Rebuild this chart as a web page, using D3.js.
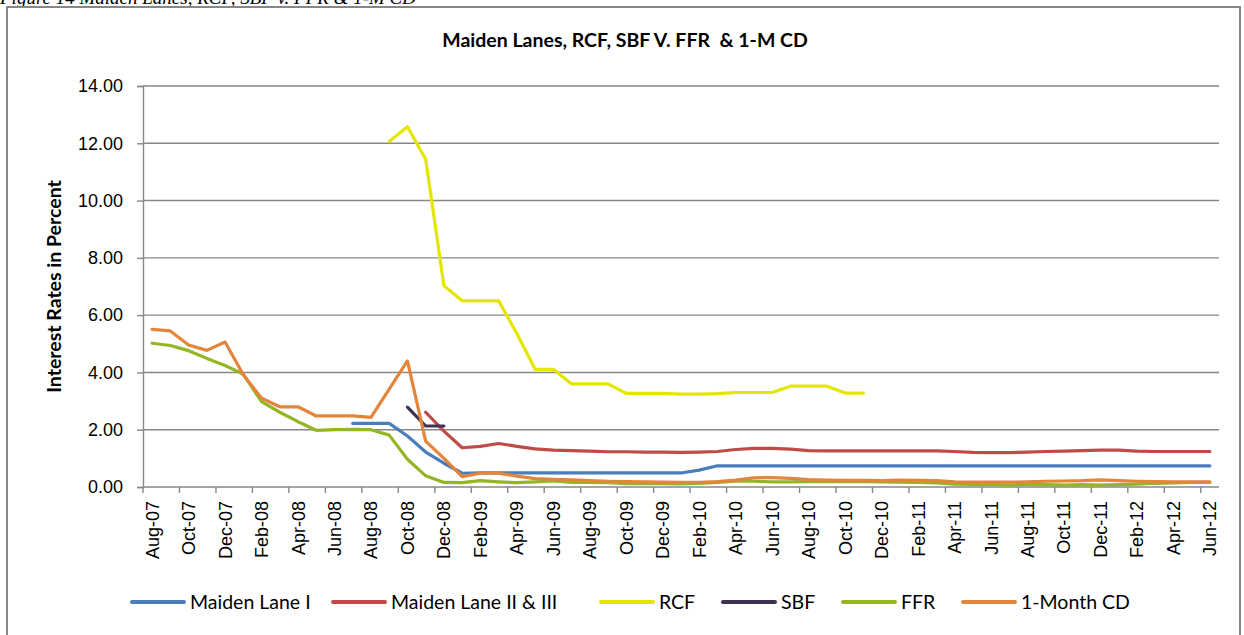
<!DOCTYPE html>
<html>
<head>
<meta charset="utf-8">
<script src="https://cdn.jsdelivr.net/npm/d3@7"></script>
<style>
  body { margin: 0; background: #fff; }
  svg { display: block; font-family: Lato, "Open Sans", sans-serif; }
</style>
</head>
<body>
<svg id="chart"></svg>
<script>
// months on the category axis, Aug-07 .. Jun-12
const months = [
  "Aug-07","Sep-07","Oct-07","Nov-07","Dec-07","Jan-08","Feb-08","Mar-08","Apr-08","May-08","Jun-08","Jul-08",
  "Aug-08","Sep-08","Oct-08","Nov-08","Dec-08","Jan-09","Feb-09","Mar-09","Apr-09","May-09","Jun-09","Jul-09",
  "Aug-09","Sep-09","Oct-09","Nov-09","Dec-09","Jan-10","Feb-10","Mar-10","Apr-10","May-10","Jun-10","Jul-10",
  "Aug-10","Sep-10","Oct-10","Nov-10","Dec-10","Jan-11","Feb-11","Mar-11","Apr-11","May-11","Jun-11","Jul-11",
  "Aug-11","Sep-11","Oct-11","Nov-11","Dec-11","Jan-12","Feb-12","Mar-12","Apr-12","May-12","Jun-12"
];
const yTicks = [0, 2, 4, 6, 8, 10, 12, 14];

const seriesNames = ["Maiden Lane I", "Maiden Lane II & III", "RCF", "SBF", "FFR", "1-Month CD"];

const maidenLaneI = [
  null,null,null,null,null,null,null,null,null,null,null,2.22,
  2.22,2.22,1.78,1.22,0.83,0.48,0.49,0.49,0.49,0.49,0.49,0.49,
  0.49,0.49,0.49,0.49,0.49,0.49,0.59,0.74,0.74,0.74,0.74,0.74,
  0.74,0.74,0.74,0.74,0.74,0.74,0.74,0.74,0.74,0.74,0.74,0.74,
  0.74,0.74,0.74,0.74,0.74,0.74,0.74,0.74,0.74,0.74,0.74
];
const maidenLaneII = [
  null,null,null,null,null,null,null,null,null,null,null,null,
  null,null,null,2.61,1.95,1.37,1.42,1.52,1.42,1.33,1.29,1.27,
  1.25,1.23,1.23,1.22,1.22,1.21,1.22,1.24,1.31,1.35,1.35,1.32,
  1.27,1.26,1.26,1.26,1.26,1.26,1.26,1.26,1.24,1.21,1.20,1.20,
  1.22,1.24,1.25,1.27,1.29,1.29,1.25,1.24,1.24,1.24,1.24
];
const rcf = [
  null,null,null,null,null,null,null,null,null,null,null,null,
  null,12.06,12.58,11.44,7.03,6.50,6.50,6.50,5.36,4.11,4.11,3.60,
  3.60,3.60,3.27,3.27,3.27,3.24,3.24,3.26,3.30,3.30,3.30,3.52,
  3.52,3.52,3.28,3.28,null,null,null,null,null,null,null,null,
  null,null,null,null,null,null,null,null,null,null,null
];
const sbf = [
  null,null,null,null,null,null,null,null,null,null,null,null,
  null,null,2.79,2.13,2.13,null,null,null,null,null,null,null,
  null,null,null,null,null,null,null,null,null,null,null,null,
  null,null,null,null,null,null,null,null,null,null,null,null,
  null,null,null,null,null,null,null,null,null,null,null
];
const ffr = [
  5.02,4.94,4.76,4.49,4.24,3.94,2.98,2.61,2.28,1.98,2.00,2.01,
  2.00,1.81,0.97,0.39,0.16,0.15,0.22,0.18,0.15,0.18,0.21,0.16,
  0.16,0.15,0.12,0.12,0.12,0.11,0.13,0.16,0.20,0.20,0.18,0.18,
  0.19,0.19,0.19,0.19,0.18,0.17,0.16,0.14,0.10,0.09,0.09,0.07,
  0.10,0.08,0.07,0.08,0.07,0.08,0.10,0.13,0.14,0.16,0.16
];
const cd1m = [
  5.50,5.45,4.96,4.77,5.06,3.92,3.10,2.80,2.80,2.48,2.48,2.48,
  2.43,3.42,4.40,1.60,1.00,0.36,0.48,0.48,0.38,0.29,0.27,0.25,
  0.22,0.20,0.19,0.18,0.17,0.16,0.16,0.19,0.24,0.32,0.33,0.30,
  0.26,0.24,0.23,0.23,0.22,0.24,0.23,0.22,0.18,0.17,0.17,0.17,
  0.18,0.20,0.21,0.22,0.25,0.22,0.20,0.19,0.18,0.18,0.18
];

const seriesValues = [maidenLaneI, maidenLaneII, rcf, sbf, ffr, cd1m];
const colors = ["#4a7ebb", "#be4b48", "#e4e600", "#403152", "#94b524", "#e3853a"];

const width = 1244, height = 635;
const svg = d3.select("#chart").attr("width", width).attr("height", height);

const plotLeft = 143, plotRight = 1219, plotTop = 86, plotBottom = 487;
const gridColor = "#878787";

// caption above the chart frame (cut off at the top, as on the page)
svg.append("text")
  .attr("x", 0).attr("y", 4)
  .style("font-family", "'Liberation Serif', serif")
  .style("font-style", "italic")
  .style("font-size", "19px")
  .text("Figure 14 Maiden Lanes, RCF, SBF v. FFR & 1-M CD");

// chart frame
svg.append("rect")
  .attr("x", 7).attr("y", 7)
  .attr("width", 1233).attr("height", 700)
  .attr("fill", "none")
  .attr("stroke", gridColor)
  .attr("stroke-width", 2);

const x = d3.scaleBand().domain(months).range([plotLeft, plotRight]).padding(0);
const y = d3.scaleLinear().domain([0, 14]).range([plotBottom, plotTop]);
const cx = d => x(d) + x.bandwidth() / 2;

// title
svg.append("text")
  .attr("x", 625).attr("y", 47)
  .attr("text-anchor", "middle")
  .style("font-weight", "bold")
  .style("font-size", "19.5px")
  .style("white-space", "pre")
  .text("Maiden Lanes, RCF, SBF V. FFR  & 1-M CD");

// gridlines
svg.append("g").selectAll("line").data(yTicks.slice(1)).enter().append("line")
  .attr("x1", plotLeft).attr("x2", plotRight)
  .attr("y1", d => y(d)).attr("y2", d => y(d))
  .attr("stroke", gridColor).attr("stroke-width", 1.4);

// y axis
const yAxis = svg.append("g")
  .attr("transform", `translate(${plotLeft},0)`)
  .call(d3.axisLeft(y).tickValues(yTicks).tickFormat(d3.format(".2f")).tickSize(6).tickPadding(14));
yAxis.select(".domain").attr("stroke", gridColor).attr("stroke-width", 1.4);
yAxis.selectAll(".tick line").attr("stroke", gridColor).attr("stroke-width", 1.4);
yAxis.selectAll("text").style("font-size", "18px").attr("fill", "#000");

svg.append("text")
  .attr("transform", `translate(61,${(plotTop + plotBottom) / 2}) rotate(-90)`)
  .attr("text-anchor", "middle")
  .style("font-weight", "bold")
  .style("font-size", "19.5px")
  .text("Interest Rates in Percent");

// x axis: baseline, tick marks every second month boundary, rotated labels
svg.append("line")
  .attr("x1", plotLeft).attr("x2", plotRight)
  .attr("y1", plotBottom).attr("y2", plotBottom)
  .attr("stroke", gridColor).attr("stroke-width", 1.4);

const everyOther = months.filter((d, i) => i % 2 === 0);
svg.append("g").selectAll("line").data(everyOther).enter().append("line")
  .attr("x1", d => x(d)).attr("x2", d => x(d))
  .attr("y1", plotBottom).attr("y2", plotBottom + 6)
  .attr("stroke", gridColor).attr("stroke-width", 1.4);

const xAxis = svg.append("g")
  .attr("transform", `translate(0,${plotBottom})`)
  .call(d3.axisBottom(x).tickValues(everyOther).tickSize(0));
xAxis.select(".domain").remove();
xAxis.selectAll("text")
  .attr("transform", "rotate(-90)")
  .attr("text-anchor", "end")
  .attr("x", -14).attr("y", 0).attr("dy", "0.36em")
  .attr("fill", "#000")
  .style("font-size", "18px");

// series lines
const line = d3.line()
  .defined(d => d.v != null)
  .x(d => cx(d.m))
  .y(d => y(d.v));

seriesValues.forEach((vals, k) => {
  svg.append("path")
    .datum(vals.map((v, i) => ({ m: months[i], v: v })))
    .attr("fill", "none")
    .attr("stroke", colors[k])
    .attr("stroke-width", 3.2)
    .attr("stroke-linejoin", "round")
    .attr("stroke-linecap", "round")
    .attr("d", line);
});

// legend
const legendX = [132, 333, 601, 723, 843, 963];
const legendY = 602;
const lg = svg.append("g").selectAll("g").data(seriesNames).enter().append("g")
  .attr("transform", (d, i) => `translate(${legendX[i]},${legendY})`);
lg.append("line")
  .attr("x1", 0).attr("x2", 52)
  .attr("stroke", (d, i) => colors[i])
  .attr("stroke-width", 4)
  .attr("stroke-linecap", "round");
lg.append("text")
  .attr("x", 58).attr("dy", "0.36em")
  .style("font-size", "19.5px")
  .text(d => d);
</script>
</body>
</html>
